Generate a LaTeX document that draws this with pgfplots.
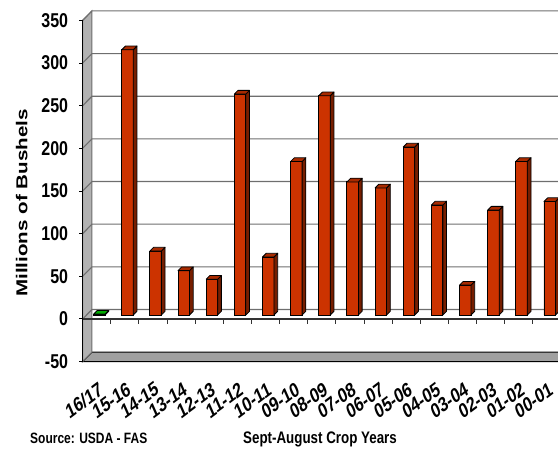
\documentclass[border=0pt]{standalone}
\usepackage{pgfplots}
\usepackage{pgfplotstable}
\pgfplotsset{compat=1.18}
\usepackage{fontspec}
\setmainfont{Liberation Sans}
\newfontfamily\condfont{Liberation Sans}[FakeStretch=0.8]
\newfontfamily\widefont{Liberation Sans}[FakeStretch=1.3]

\definecolor{barfront}{RGB}{204,51,0}
\definecolor{bartop}{RGB}{168,42,0}
\definecolor{barside}{RGB}{118,30,0}
\definecolor{grnfront}{RGB}{0,160,0}
\definecolor{grntop}{RGB}{0,170,0}
\definecolor{grnside}{RGB}{0,90,0}
\definecolor{wallgray}{RGB}{178,178,178}
\definecolor{floorgray}{RGB}{160,160,160}
\definecolor{gridgray}{RGB}{110,110,110}

\pgfdeclareplotmark{blank}{}

% Sept-August exports, millions of bushels
\pgfplotstableread{
x  val
1  311
2  75
3  52
4  42
5  259
6  68
7  180
8  257
9  156
10 149
11 197
12 129
13 35
14 123
15 180
16 133
}\cropyears

\pgfplotstableread{
x  val
0  1
}\currentyear

% side and top faces of a bar, hung on the data point
\pgfplotsset{
  bar3d/.style n args={2}{
    scatter, only marks, mark=blank,
    visualization depends on={\thisrow{val} \as \barval},
    scatter/@pre marker code/.code={%
      \pgfmathsetlengthmacro\barh{\barval*0.853bp}%
      \filldraw[fill=#2, draw=black, line width=0.8bp, line join=round]
        (8.45bp,4bp) -- (12.15bp,7.7bp) -- (12.15bp,7.7bp-\barh) -- (8.45bp,4bp-\barh) -- cycle;
      \filldraw[fill=#1, draw=black, line width=0.8bp, line join=round]
        (-3.05bp,4bp) -- (8.45bp,4bp) -- (12.15bp,7.7bp) -- (0.65bp,7.7bp) -- cycle;
    },
    scatter/@post marker code/.code={},
  },
}
\tikzset{depth/.style={shift={(9.45bp,9.5bp)}}}

\begin{document}
\begin{tikzpicture}
\begin{axis}[
  x=28.15bp, y=0.853bp,
  xmin=-0.5, xmax=17.5, ymin=-50, ymax=350,
  clip=false,
  axis x line*=bottom, axis y line*=left,
  axis line style={draw=none},
  tick style={draw=none},
  /pgf/number format/assume math mode=true,
  ytick={-50,0,...,350},
  yticklabel style={font=\condfont\bfseries\fontsize{20bp}{20bp}\selectfont,
    anchor=east, inner sep=0pt, xshift=-14.25bp},
  xtick={0,...,16},
  xticklabels={16/17,15-16,14-15,13-14,12-13,11-12,10-11,09-10,08-09,07-08,06-07,05-06,04-05,03-04,02-03,01-02,00-01},
  xticklabel style={font=\bfseries\fontsize{15.8bp}{15.8bp}\selectfont,
    anchor=north east, inner sep=0pt, xshift=1.5bp, yshift=-18.9bp,
    yscale=1.3, rotate=30},
]
% walls and floor
\filldraw[fill=floorgray, draw=black, line width=1bp]
  (axis cs:-0.5,-50) -- (axis cs:17.5,-50) -- ([depth]axis cs:17.5,-50) -- ([depth]axis cs:-0.5,-50) -- cycle;
\filldraw[fill=wallgray, draw=gridgray, line width=1bp]
  (axis cs:-0.5,-50) -- (axis cs:-0.5,350) -- ([depth]axis cs:-0.5,350) -- ([depth]axis cs:-0.5,-50) -- cycle;
\pgfplotsinvokeforeach{50,100,150,200,250,300,350}{
  \draw[gridgray, line width=1.1bp] (axis cs:-0.5,#1) -- ([depth]axis cs:-0.5,#1) -- ([depth]axis cs:17.5,#1);
}
% zero plane
\draw[gridgray, line width=1.1bp] (axis cs:-0.5,0) -- ([depth]axis cs:-0.5,0) -- ([depth]axis cs:17.5,0);
\draw[black!80, line width=1.1bp] (axis cs:-0.5,0) -- (axis cs:17.5,0);
\pgfplotsinvokeforeach{0.5,1.5,2.5,3.5,4.5,5.5,6.5,7.5,8.5,9.5,10.5,11.5,12.5,13.5,14.5,15.5,16.5}{
  \draw[black!80, line width=1bp] (axis cs:#1,0) -- ++(0pt,-5bp);
}
% front value axis
\draw[black, line width=1.1bp] (axis cs:-0.5,-50) -- (axis cs:-0.5,350);
\pgfplotsinvokeforeach{-50,0,50,100,150,200,250,300,350}{
  \draw[black, line width=1bp] (axis cs:-0.5,#1) -- ++(-4bp,0pt);
}

% bars
\addplot[ybar, bar width=11.5bp, bar shift=2.7bp, yshift=4bp,
  fill=barfront, draw=black, line width=0.9bp] table[x=x, y=val] {\cropyears};
\addplot[bar3d={bartop}{barside}] table[x=x, y=val] {\cropyears};
\addplot[ybar, bar width=11.5bp, bar shift=2.7bp, yshift=4bp,
  fill=grnfront, draw=black, line width=0.9bp] table[x=x, y=val] {\currentyear};
\addplot[bar3d={grntop}{grnside}] table[x=x, y=val] {\currentyear};

% titles
\node[rotate=90, anchor=base, inner sep=0pt,
  font=\widefont\bfseries\fontsize{15.8bp}{15.8bp}\selectfont]
  at (axis cs:-2.4627,136) {Millions of Bushels};
\node[anchor=base west, inner sep=0pt,
  font=\condfont\bfseries\fontsize{15bp}{15bp}\selectfont]
  at (axis cs:-2.3668,-145.7) {Source: USDA - FAS};
\node[anchor=base, inner sep=0pt,
  font=\condfont\bfseries\fontsize{16.7bp}{16.7bp}\selectfont]
  at (axis cs:7.935,-146.5) {Sept-August Crop Years};

\coordinate (bbsw) at (axis cs:-3.4325,-153.58);
\coordinate (bbne) at (axis cs:16.390,373.98);
\end{axis}
\pgfresetboundingbox
\path[use as bounding box] (bbsw) rectangle (bbne);
\end{tikzpicture}
\end{document}
